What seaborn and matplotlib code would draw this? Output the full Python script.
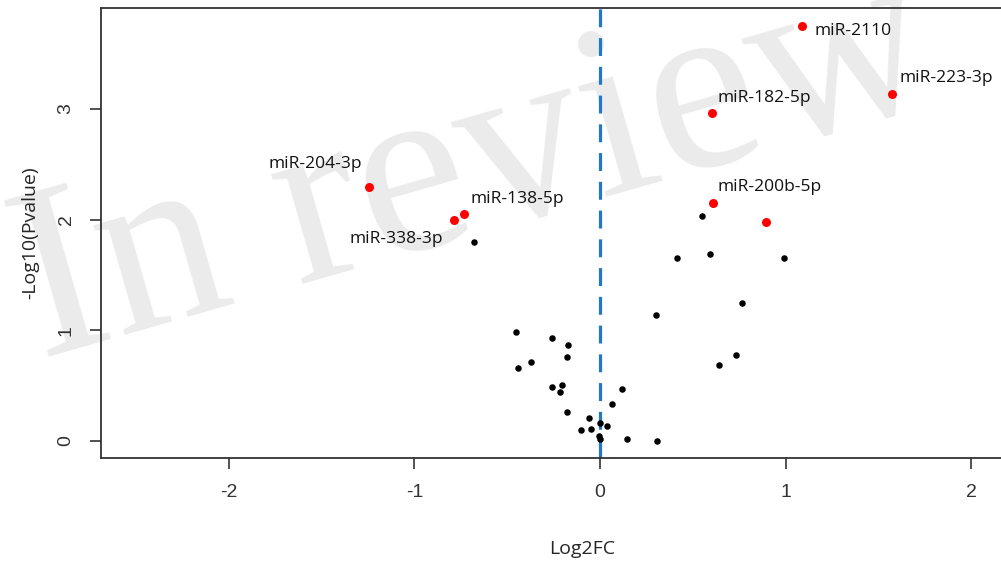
import matplotlib
matplotlib.use('Agg')
import matplotlib.pyplot as plt
import pandas as pd
import seaborn as sns

# significant miRNAs (red)
sig_names = ['miR-2110', 'miR-223-3p', 'miR-182-5p', 'miR-200b-5p', '',
             'miR-204-3p', 'miR-138-5p', 'miR-338-3p']
sig_fc = [1.09, 1.573, 0.603, 0.610, 0.894, -1.244, -0.731, -0.785]
sig_p = [3.75, 3.13, 2.96, 2.15, 1.98, 2.29, 2.05, 2.00]

# other miRNAs (black)
ns_fc = [-0.677, 0.549, 0.415, 0.591, 0.993, 0.763, 0.300, 0.734, 0.643,
         -0.451, -0.260, -0.174, -0.180, -0.442, -0.372, -0.260, -0.206,
         -0.214, 0.117, 0.065, -0.180, -0.061, 0.002, 0.038, -0.102,
         -0.048, -0.005, 0.000, 0.147, 0.307]
ns_p = [1.80, 2.03, 1.654, 1.687, 1.654, 1.245, 1.134, 0.78, 0.683,
        0.981, 0.926, 0.871, 0.760, 0.660, 0.715, 0.484, 0.507,
        0.442, 0.471, 0.338, 0.266, 0.208, 0.162, 0.140, 0.0975,
        0.107, 0.05, 0.015, 0.023, 0.0]

# label offsets in pixels (dx, dy, ha)
label_pos = {
    'miR-2110': (12, -5, 'left'),
    'miR-223-3p': (8, 16, 'left'),
    'miR-182-5p': (6, 15, 'left'),
    'miR-200b-5p': (4, 16, 'left'),
    'miR-204-3p': (-7, 23, 'right'),
    'miR-138-5p': (6, 15, 'left'),
    'miR-338-3p': (-11, -19, 'right'),
}

df_sig = pd.DataFrame({'fc': sig_fc, 'p': sig_p, 'name': sig_names})
df_ns = pd.DataFrame({'fc': ns_fc, 'p': ns_p})

sns.set_style('ticks')
plt.rcParams['font.family'] = ['Liberation Sans', 'DejaVu Sans']
plt.rcParams['axes.unicode_minus'] = False

fig = plt.figure(figsize=(10.01, 5.65), dpi=100)
ax = fig.add_axes([101 / 1001, 107 / 565, 962 / 1001, 450 / 565])
ax.patch.set_alpha(0)

# watermark behind everything
fig.text(0.04, 0.365, 'In review', fontsize=178, family='Liberation Serif',
         color='#ebebeb', rotation=16, rotation_mode='anchor',
         ha='left', va='baseline', zorder=-1)

ax.axvline(0, color='#1f78c8', lw=2.3, ls=(0, (5.6, 3.4)), zorder=1)

sns.scatterplot(data=df_ns, x='fc', y='p', color='black', s=22,
                linewidth=0, ax=ax, zorder=3)
sns.scatterplot(data=df_sig, x='fc', y='p', color='#ff0000', s=42,
                linewidth=0, ax=ax, zorder=3)

for _, row in df_sig.iterrows():
    if row['name'] == '':
        continue
    dx, dy, ha = label_pos[row['name']]
    ax.annotate(row['name'], (row['fc'], row['p']), xytext=(dx, dy),
                textcoords='offset pixels', ha=ha, va='center',
                fontsize=12.5, family='Open Sans', color='#111111')

ax.set_xlim(-2.689, 2.495)
ax.set_ylim(-0.153, 3.91)
ax.set_xticks([-2, -1, 0, 1, 2])
ax.set_yticks([0, 1, 2, 3])
ax.tick_params(axis='both', length=8, width=1.2, color='#333333',
               labelsize=14, labelcolor='#333333', pad=11)
for lab in ax.get_yticklabels():
    lab.set_rotation(90)
    lab.set_va('center')

for s in ax.spines.values():
    s.set_linewidth(1.3)
    s.set_color('#333333')

ax.set_xlabel('Log2FC', fontsize=14, family='Open Sans', labelpad=28)
ax.set_ylabel('-Log10(Pvalue)', fontsize=14, family='Open Sans', labelpad=13)

fig.savefig('out.png', dpi=100)
